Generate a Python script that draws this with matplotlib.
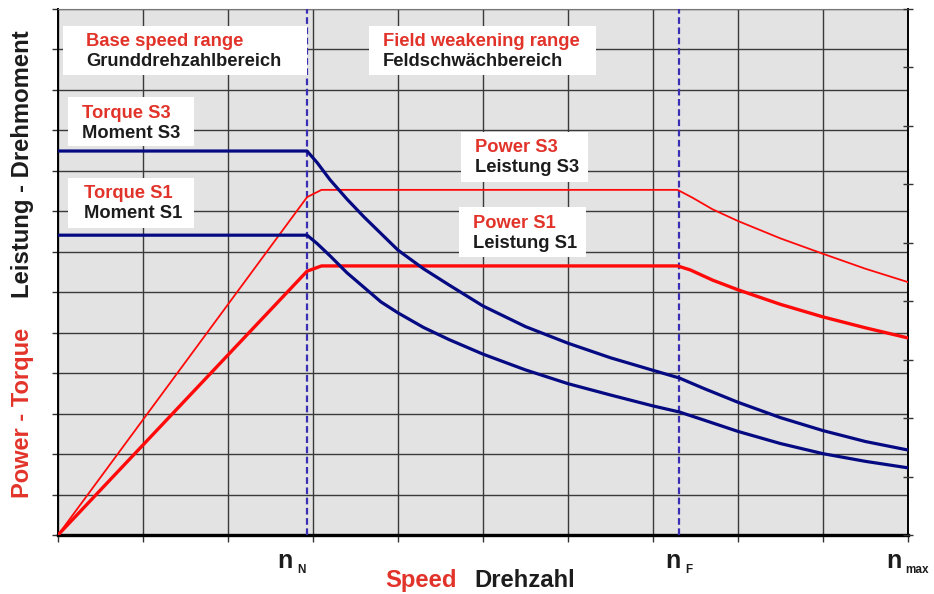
"""Motor characteristic: power and torque over speed (S1 / S3)."""

import matplotlib

matplotlib.use("Agg")
import matplotlib.pyplot as plt
from matplotlib.patches import Rectangle

plt.rcParams["font.family"] = ["Liberation Sans", "DejaVu Sans"]
plt.rcParams["font.weight"] = "bold"

# speed in grid units (0 .. n_max = 10), value in grid units (0 .. 13)
N_NOMINAL = 2.93
N_FIELD = 7.31

torque_s3_speed = [0, 2.93, 3.05, 3.2, 3.4, 3.6, 3.8, 4.0, 4.3, 4.6, 5.0, 5.5, 6.0, 6.5,
                   7.0, 7.31, 7.6, 8.0, 8.5, 9.0, 9.5, 10.0]
torque_s3 = [9.49, 9.49, 9.2, 8.78, 8.3, 7.86, 7.45, 7.04, 6.58, 6.18, 5.66, 5.15, 4.74, 4.38,
             4.07, 3.88, 3.62, 3.28, 2.90, 2.58, 2.31, 2.10]

torque_s1_speed = [0, 2.93, 3.05, 3.2, 3.4, 3.6, 3.8, 4.0, 4.3, 4.6, 5.0, 5.5, 6.0, 6.5,
                   7.0, 7.31, 7.6, 8.0, 8.5, 9.0, 9.5, 10.0]
torque_s1 = [7.41, 7.41, 7.2, 6.9, 6.48, 6.12, 5.76, 5.49, 5.13, 4.83, 4.47, 4.08, 3.74, 3.46,
             3.19, 3.04, 2.84, 2.56, 2.26, 2.01, 1.82, 1.66]

power_s3_speed = [0, 2.93, 3.1, 7.29, 7.47, 7.7, 8.0, 8.5, 9.0, 9.5, 10.0]
power_s3 = [0, 8.35, 8.53, 8.53, 8.33, 8.05, 7.76, 7.33, 6.95, 6.58, 6.25]

power_s1_speed = [0, 2.93, 3.1, 7.29, 7.44, 7.7, 8.0, 8.5, 9.0, 9.5, 10.0]
power_s1 = [0, 6.52, 6.65, 6.65, 6.55, 6.3, 6.06, 5.7, 5.39, 5.12, 4.87]

# (red English label, black German label, box in pixels x0, y0, x1, y1, text indent)
labels = [
    ("Base speed range", "Grunddrehzahlbereich", (63, 26, 307, 75), 23),
    ("Field weakening range", "Feldschwächbereich", (369, 26, 596, 75), 14),
    ("Torque S3", "Moment S3", (68, 97, 194, 146), 14),
    ("Torque S1", "Moment S1", (68, 178, 194, 228), 16),
    ("Power S3", "Leistung S3", (461, 132, 588, 182), 14),
    ("Power S1", "Leistung S1", (459, 207, 586, 257), 14),
]

RED_TEXT = "#e2332a"
DARK_TEXT = "#1c1c1c"
NAVY = "#050a82"
LINE_RED = "#ff0a0a"
DASH = "#3a2eb4"

W, H = 934, 594


def fpos(x, y):
    """Pixel position -> figure fraction."""
    return x / W, 1 - y / H


fig = plt.figure(figsize=(W / 100, H / 100), dpi=100)
ax = fig.add_axes([58 / W, 1 - 535 / H, 850 / W, 526 / H])
ax.set_facecolor("#e3e3e3")
ax.set_xlim(0, 10)
ax.set_ylim(0, 13)
ax.set_xticks(range(11))
ax.set_yticks(range(14))
ax.set_xticklabels([])
ax.set_yticklabels([])
ax.grid(True, color="#3a3a3a", linewidth=1.0)
ax.set_axisbelow(True)
ax.tick_params(axis="x", direction="out", length=5, width=1, color="#333333")
ax.tick_params(axis="y", direction="out", length=4, width=1, color="#333333")
for side in ["left", "right"]:
    ax.spines[side].set_linewidth(1.4)
ax.spines["bottom"].set_linewidth(2.4)
ax.spines["top"].set_color("#777777")

ax2 = ax.twinx()
ax2.set_ylim(0, 9)
ax2.set_yticks(range(10))
ax2.set_yticklabels([])
ax2.tick_params(axis="y", direction="inout", length=7, width=1, color="#333333")
for side in ax2.spines:
    ax2.spines[side].set_visible(False)

ax.axvline(N_NOMINAL, color=DASH, linestyle=(0, (3, 1.6)), linewidth=1.6, zorder=3)
ax.axvline(N_FIELD, color=DASH, linestyle=(0, (3, 1.6)), linewidth=1.6, zorder=3)

ax.plot(power_s3_speed, power_s3, color=LINE_RED, linewidth=1.3, zorder=4)
ax.plot(power_s1_speed, power_s1, color=LINE_RED, linewidth=2.4, zorder=4)
ax.plot(torque_s3_speed, torque_s3, color=NAVY, linewidth=2.3, zorder=4)
ax.plot(torque_s1_speed, torque_s1, color=NAVY, linewidth=2.3, zorder=4)

# white label boxes
for red, black, (x0, y0, x1, y1), indent in labels:
    fx0, fy1 = fpos(x0, y1)
    fx1, fy0 = fpos(x1, y0)
    fig.patches.append(Rectangle((fx0, fy1), fx1 - fx0, fy0 - fy1, transform=fig.transFigure,
                                 facecolor="white", edgecolor="none", zorder=5))
    tx = x0 + indent
    fig.text(*fpos(tx, y0 + 16), red, color=RED_TEXT, fontsize=13.2, fontweight="bold",
             ha="left", va="center", zorder=6)
    fig.text(*fpos(tx, y0 + 36), black, color=DARK_TEXT, fontsize=13.2, fontweight="bold",
             ha="left", va="center", zorder=6)

# y axis title
fig.text(*fpos(29, 498), "Power - Torque", color=RED_TEXT, fontsize=17, fontweight="bold",
         rotation=90, rotation_mode="anchor", ha="left", va="baseline")
fig.text(*fpos(29, 298), "Leistung - Drehmoment", color=DARK_TEXT, fontsize=17.2, fontweight="bold",
         rotation=90, rotation_mode="anchor", ha="left", va="baseline")

# x axis title
fig.text(*fpos(385, 587), "Speed", color=RED_TEXT, fontsize=17.2, fontweight="bold",
         ha="left", va="baseline")
fig.text(*fpos(474, 587), "Drehzahl", color=DARK_TEXT, fontsize=17.2, fontweight="bold",
         ha="left", va="baseline")

# speed markers
for n_x, sub, sub_x in [(277, "N", 297), (665, "F", 685), (886, "max", 905)]:
    fig.text(*fpos(n_x, 568), "n", color=DARK_TEXT, fontsize=18, fontweight="bold",
             ha="left", va="baseline")
    fig.text(*fpos(sub_x, 573), sub, color=DARK_TEXT, fontsize=8.5, fontweight="bold",
             ha="left", va="baseline")

fig.savefig("out.png", dpi=100)
